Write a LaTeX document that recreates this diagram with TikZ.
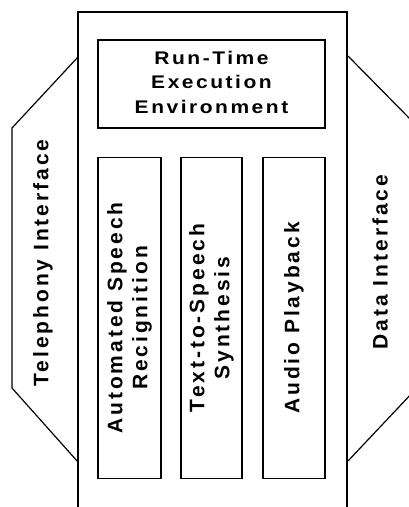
\documentclass[tikz,border=0pt]{standalone}
\usepackage{fontspec}
\setmainfont{Liberation Sans}[LetterSpace=14]
\newfontfamily\toplabelfont{Liberation Sans}[LetterSpace=12]
\begin{document}
\begin{tikzpicture}[x=0.75pt,y=-0.75pt,
  line width=0.9pt,
  lbl/.style={font=\fontsize{15.75pt}{18.75pt}\selectfont\bfseries, align=center, inner sep=0pt},
  block/.style={draw, lbl, inner sep=0pt},
  colblock/.style={block, rotate=90, minimum width={321*0.75pt}},
  iface/.style={line width=0.9pt}]
\useasboundingbox (0,0) rectangle (409,507);
\clip (0,0) rectangle (409,507);

% outer frame, open at the bottom
\coordinate (fbl) at (78,510);
\coordinate (ftl) at (78,12);
\coordinate (ftr) at (347,12);
\coordinate (fbr) at (347,510);
\draw (fbl) -- (ftl) -- (ftr) -- (fbr);

% run-time block (lettering slightly flattened)
\node[block, minimum width={227*0.75pt}, minimum height={88*0.75pt},
      font=\toplabelfont\fontsize{15.75pt}{21.5pt}\selectfont\bfseries] (rte) at (211.5,84)
  {\scalebox{1}[0.87]{\begin{tabular}{@{}c@{}}Run-Time\\Execution\\Environment\end{tabular}}};

% engine columns
\node[colblock, minimum height={63*0.75pt}] (asr) at (129.5,318)
  {Automated Speech\\Recignition};
\node[colblock, minimum height={61*0.75pt}] (tts) at (211.5,318)
  {Text-to-Speech\\Synthesis};
\node[colblock, minimum height={62*0.75pt}] (apb) at (294,318)
  {Audio Playback};

% telephony interface (left)
\coordinate (tl1) at (78,57);
\coordinate (tl2) at (12,128);
\coordinate (tl3) at (12,388);
\coordinate (tl4) at (78,462);
\draw[iface] (tl1) -- (tl2) -- (tl3) -- (tl4);
\node[lbl, rotate=90] (tel) at (43,263) {Telephony Interface};

% data interface (right)
\coordinate (dr1) at (348,56);
\coordinate (dr2) at (414,123);
\coordinate (dr3) at (414,391);
\coordinate (dr4) at (348,461);
\draw[iface] (dr1) -- (dr2) -- (dr3) -- (dr4);
\node[lbl, rotate=90] (data) at (380,262) {Data Interface};
\end{tikzpicture}
\end{document}
